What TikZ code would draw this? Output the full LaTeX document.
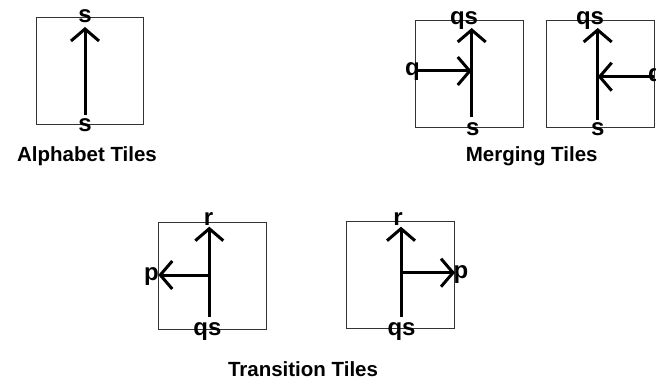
\documentclass[tikz,border=0pt]{standalone}
\usepackage{xcolor}
\usepackage{fontspec}
\setmainfont{Liberation Sans}
\usepackage{tikz}
\usetikzlibrary{arrows.meta,positioning}
\definecolor{tileline}{HTML}{333333}

\begin{document}
\begin{tikzpicture}[x=1pt,y=1pt,
  tile/.style={draw=tileline, line width=0.9pt, minimum width=107pt, minimum height=107pt, inner sep=0pt},
  flow/.style={line width=3pt, -{Straight Barb[length=12pt,width=28pt]}},
  lab/.style={font=\fontsize{24}{26}\selectfont\bfseries, inner sep=0pt, anchor=base},
  caption/.style={font=\fontsize{20.5}{24}\selectfont\bfseries, inner sep=0pt, anchor=base}]
\useasboundingbox (0,0) rectangle (656,381);

% alphabet tile
\node[tile] (alpha) at (89.5,310.5) {};
\coordinate (alpha-in) at (85,266);
\coordinate (alpha-out) at (85,354);
\draw[flow] (alpha-in) -- (alpha-out);
\node[lab] (alpha-top) at (85,358) {s};
\node[lab] (alpha-bot) at (85,249) {s};
\node[caption] (alpha-cap) at (87,219.3) {Alphabet Tiles};

% merging tiles
\node[tile, minimum width=107.6pt] (mergeL) at (469.5,307.5) {};
\coordinate (mergeL-in) at (471.7,264);
\coordinate (mergeL-out) at (471.7,353);
\coordinate (mergeL-side) at (416,310);
\coordinate (mergeL-join) at (471.7,310);
\draw[flow] (mergeL-in) -- (mergeL-out);
\draw[flow] (mergeL-side) -- (mergeL-join);
\node[lab] (mergeL-q) at (412.5,305) {q};
\node[lab] (mergeL-top) at (464,356) {qs};
\node[lab] (mergeL-bot) at (472.7,246) {s};

\node[tile, minimum width=108pt] (mergeR) at (600,307.3) {};
\coordinate (mergeR-in) at (597.7,261);
\coordinate (mergeR-out) at (597.7,353);
\coordinate (mergeR-side) at (654,304.3);
\coordinate (mergeR-join) at (597.7,304.3);
\draw[flow] (mergeR-in) -- (mergeR-out);
\draw[flow] (mergeR-side) -- (mergeR-join);
\node[lab, anchor=base west] (mergeR-q) at (648,299) {q};
\node[lab] (mergeR-top) at (590,356) {qs};
\node[lab] (mergeR-bot) at (597.7,246) {s};
\node[caption] (merge-cap) at (531.7,219.3) {Merging Tiles};

% transition tiles
\node[tile, minimum width=107.7pt] (transL) at (212.2,105.2) {};
\coordinate (transL-in) at (209.3,64.3);
\coordinate (transL-out) at (209.3,154.3);
\coordinate (transL-join) at (209.3,106);
\coordinate (transL-side) at (158.3,106);
\draw[flow] (transL-in) -- (transL-out);
\draw[flow] (transL-join) -- (transL-side);
\node[lab] (transL-p) at (151.5,101) {p};
\node[lab] (transL-r) at (208.5,156) {r};
\node[lab] (transL-bot) at (207.5,46) {qs};

\node[tile, minimum width=107.6pt] (transR) at (400.5,105.7) {};
\coordinate (transR-in) at (401,64.3);
\coordinate (transR-out) at (401,154.3);
\coordinate (transR-join) at (401,108.3);
\coordinate (transR-side) at (455,108.3);
\draw[flow] (transR-in) -- (transR-out);
\draw[flow] (transR-join) -- (transR-side);
\node[lab] (transR-p) at (461,103) {p};
\node[lab] (transR-r) at (398,156) {r};
\node[lab] (transR-bot) at (401.5,46) {qs};
\node[caption] (trans-cap) at (303,4.3) {Transition Tiles};
\end{tikzpicture}
\end{document}
